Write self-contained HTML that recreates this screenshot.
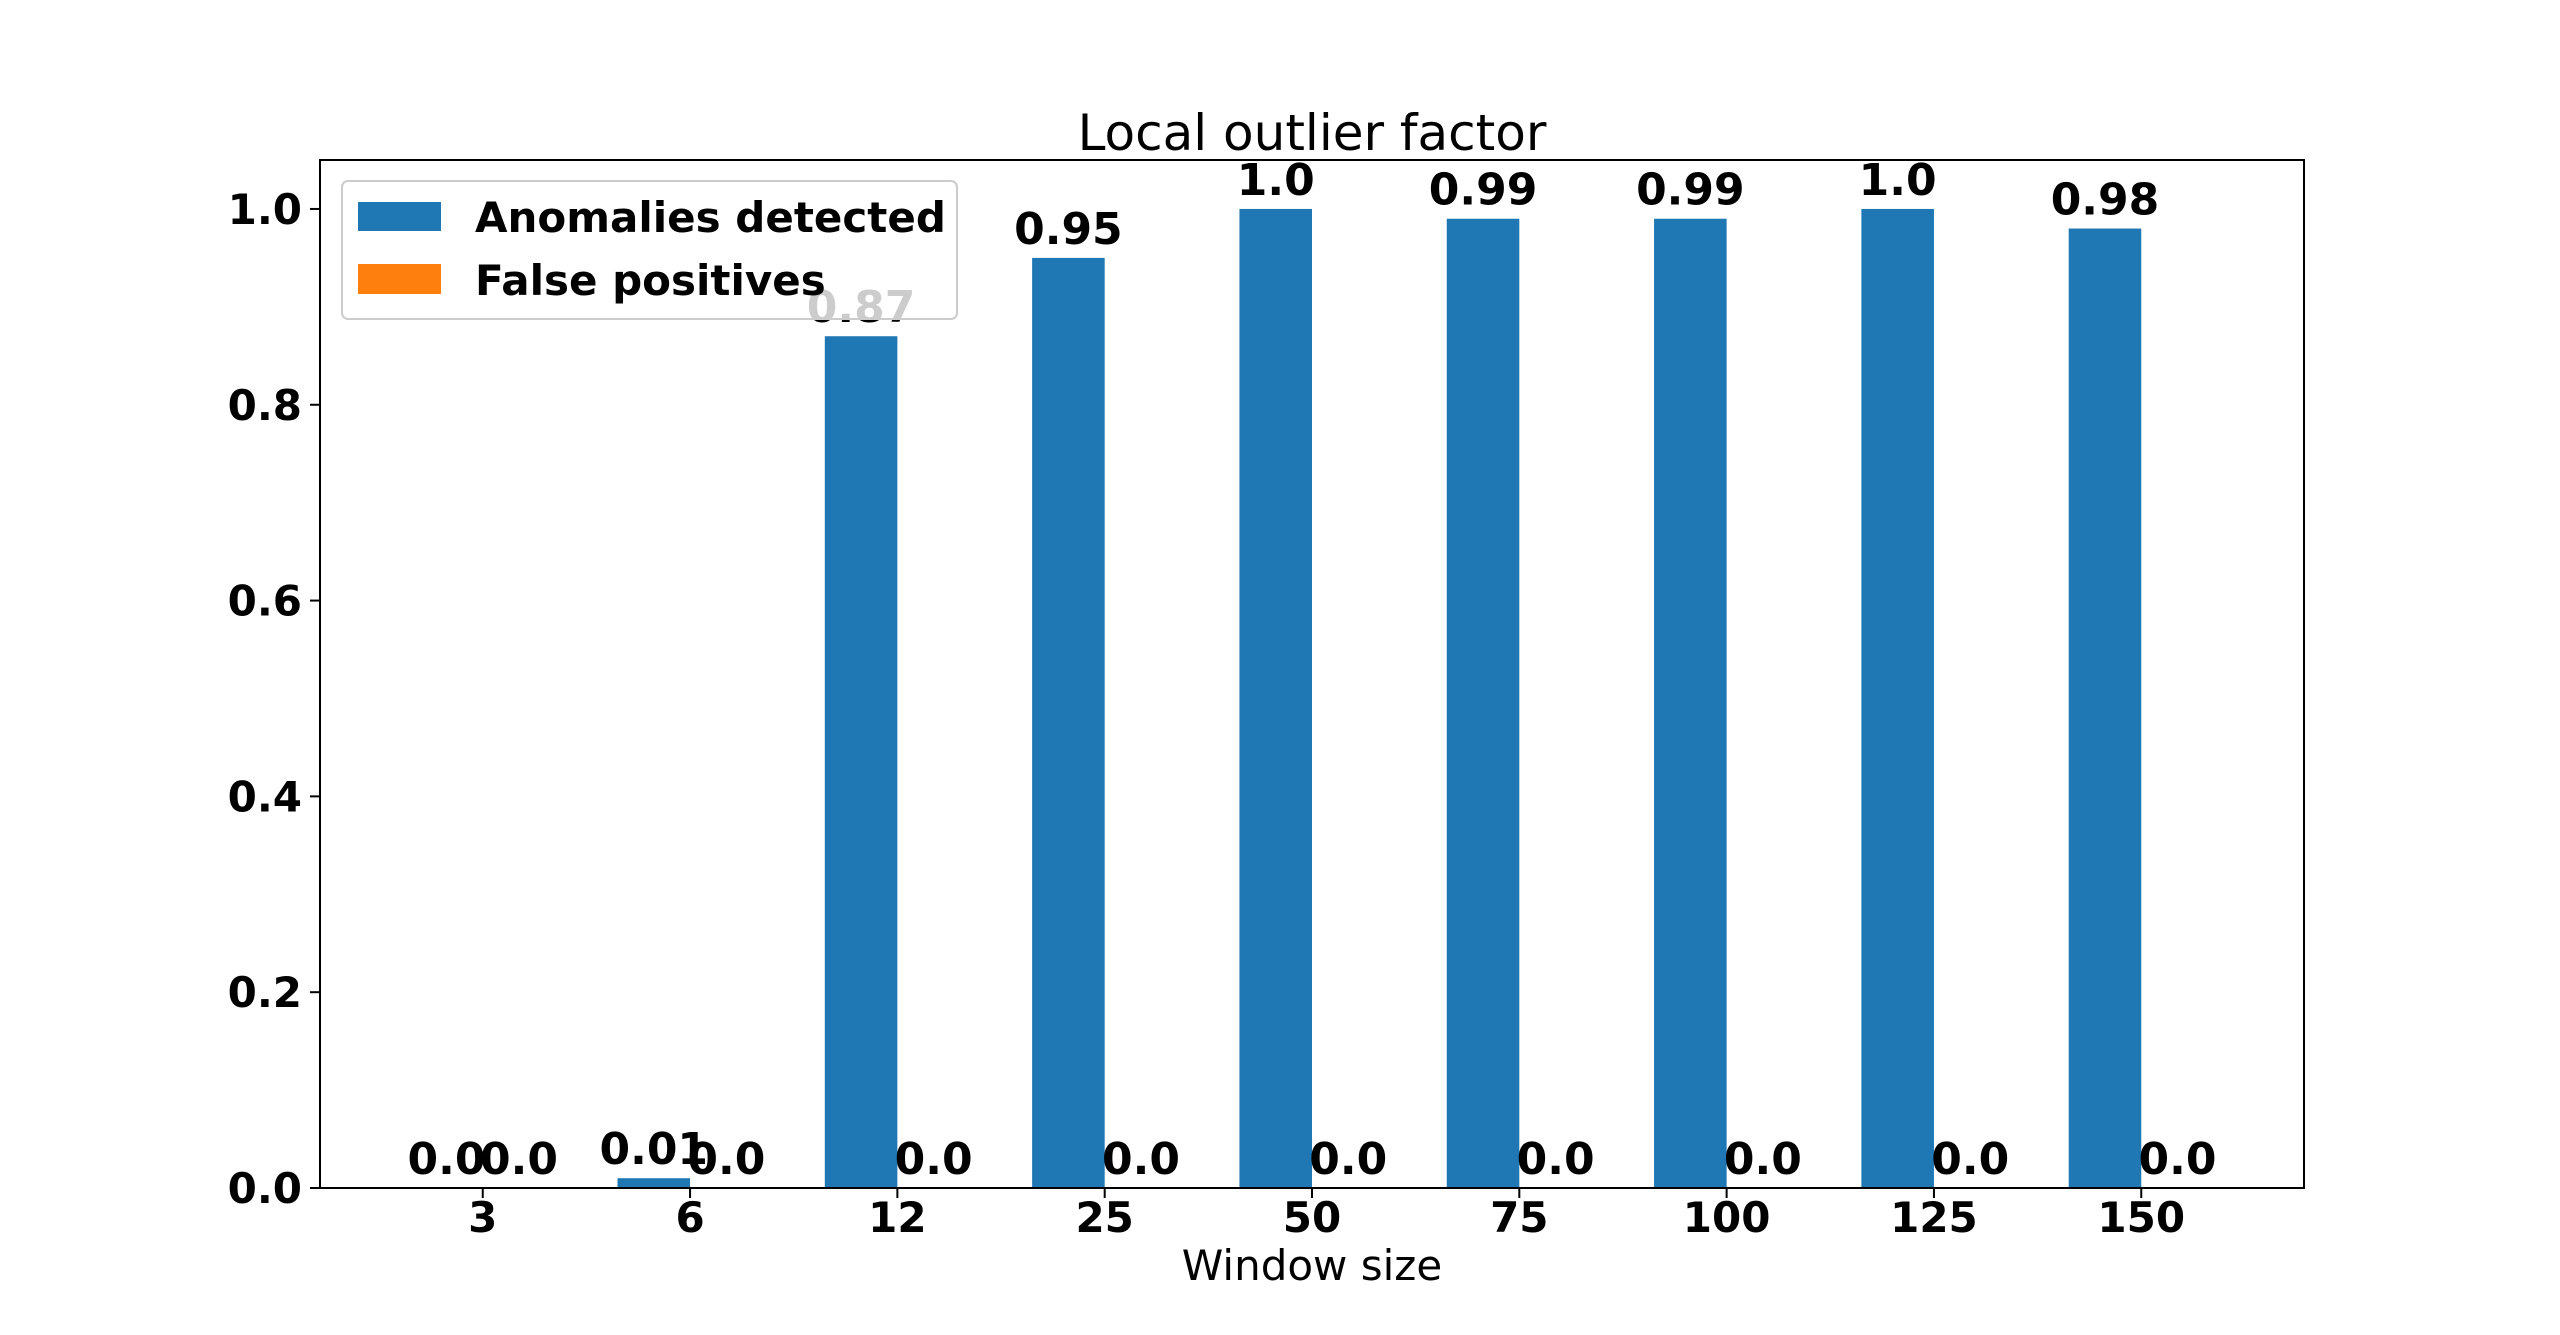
<!DOCTYPE html>
<html><head><meta charset="utf-8"><style>
html,body{margin:0;padding:0;background:#fff;}
svg{display:block;font-family:"DejaVu Sans","Liberation Sans",sans-serif;}
</style></head><body>
<svg id="chart" width="2560" height="1335" viewBox="0 0 2560 1335" xmlns="http://www.w3.org/2000/svg">
<rect width="2560" height="1335" fill="#fff"/>
<text x="1312" y="150" font-size="50" text-anchor="middle">Local outlier factor</text>
<g id="plot"></g>
<text x="1312" y="1280" font-size="42" text-anchor="middle">Window size</text>
<g>
<rect x="342" y="181" width="615" height="138" rx="6" fill="#fff" fill-opacity="0.8" stroke="#ccc" stroke-width="2"/>
<rect x="358" y="202" width="83" height="29" fill="#1f77b4"/>
<text x="475" y="232" font-size="42" font-weight="bold">Anomalies detected</text>
<rect x="358" y="264" width="83" height="30" fill="#ff7f0e"/>
<text x="475" y="295" font-size="42" font-weight="bold">False positives</text>
</g>
</svg>
<script>
const categories = ["3","6","12","25","50","75","100","125","150"];
const anomalies = [0.0,0.01,0.87,0.95,1.0,0.99,0.99,1.0,0.98];
const falsePositives = [0.0,0.0,0.0,0.0,0.0,0.0,0.0,0.0,0.0];
const yTicks = [0.0,0.2,0.4,0.6,0.8,1.0];
const yTickLabels = ["0.0","0.2","0.4","0.6","0.8","1.0"];

const L=320,R=2304,T=160,B=1188;
const xmin=-0.785,xmax=8.785,ymax=1.05;
const xs=v=>L+(v-xmin)/(xmax-xmin)*(R-L);
const ys=v=>B-v/ymax*(B-T);
const bw=0.35;
const NS="http://www.w3.org/2000/svg";
const g=document.getElementById('plot');
function mk(tag,attrs){const e=document.createElementNS(NS,tag);for(const k in attrs)e.setAttribute(k,attrs[k]);return e;}

categories.forEach((c,i)=>{
  const a=anomalies[i], f=falsePositives[i];
  const x1=xs(i-bw), x2=xs(i), x3=xs(i+bw);
  const r1=mk('rect',{x:x1,y:ys(a),width:x2-x1,height:ys(0)-ys(a),fill:'#1f77b4'});
  
  
  g.appendChild(r1);
  const r2=mk('rect',{x:x2,y:ys(f),width:x3-x2,height:ys(0)-ys(f),fill:'#ff7f0e'});
  
  
  g.appendChild(r2);
  const t1=mk('text',{x:(x1+x2)/2,y:ys(a)-14,'font-size':44,'font-weight':'bold','text-anchor':'middle',fill:'#000'});
  t1.textContent=String(a===1?'1.0':a===0?'0.0':a);
  
  
  g.appendChild(t1);
  const t2=mk('text',{x:(x2+x3)/2,y:ys(f)-14,'font-size':44,'font-weight':'bold','text-anchor':'middle'});
  t2.textContent=f===0?'0.0':String(f);
  
  
  g.appendChild(t2);
  const tk=mk('line',{x1:xs(i),x2:xs(i),y1:B,y2:B+10,stroke:'#000','stroke-width':2});
  
  
  g.appendChild(tk);
  const tl=mk('text',{x:xs(i),y:B+44,'font-size':42,'font-weight':'bold','text-anchor':'middle'});
  tl.textContent=c;
  
  
  g.appendChild(tl);
});
yTicks.forEach((v,i)=>{
  const tk=mk('line',{x1:L-10,x2:L,y1:ys(v),y2:ys(v),stroke:'#000','stroke-width':2});
  
  
  g.appendChild(tk);
  const tl=mk('text',{x:L-18,y:ys(v)+15,'font-size':42,'font-weight':'bold','text-anchor':'end'});
  tl.textContent=yTickLabels[i];
  
  
  g.appendChild(tl);
});
const frame=mk('rect',{x:L,y:T,width:R-L,height:B-T,fill:'none',stroke:'#000','stroke-width':2});


g.appendChild(frame);
</script>
</body></html>
